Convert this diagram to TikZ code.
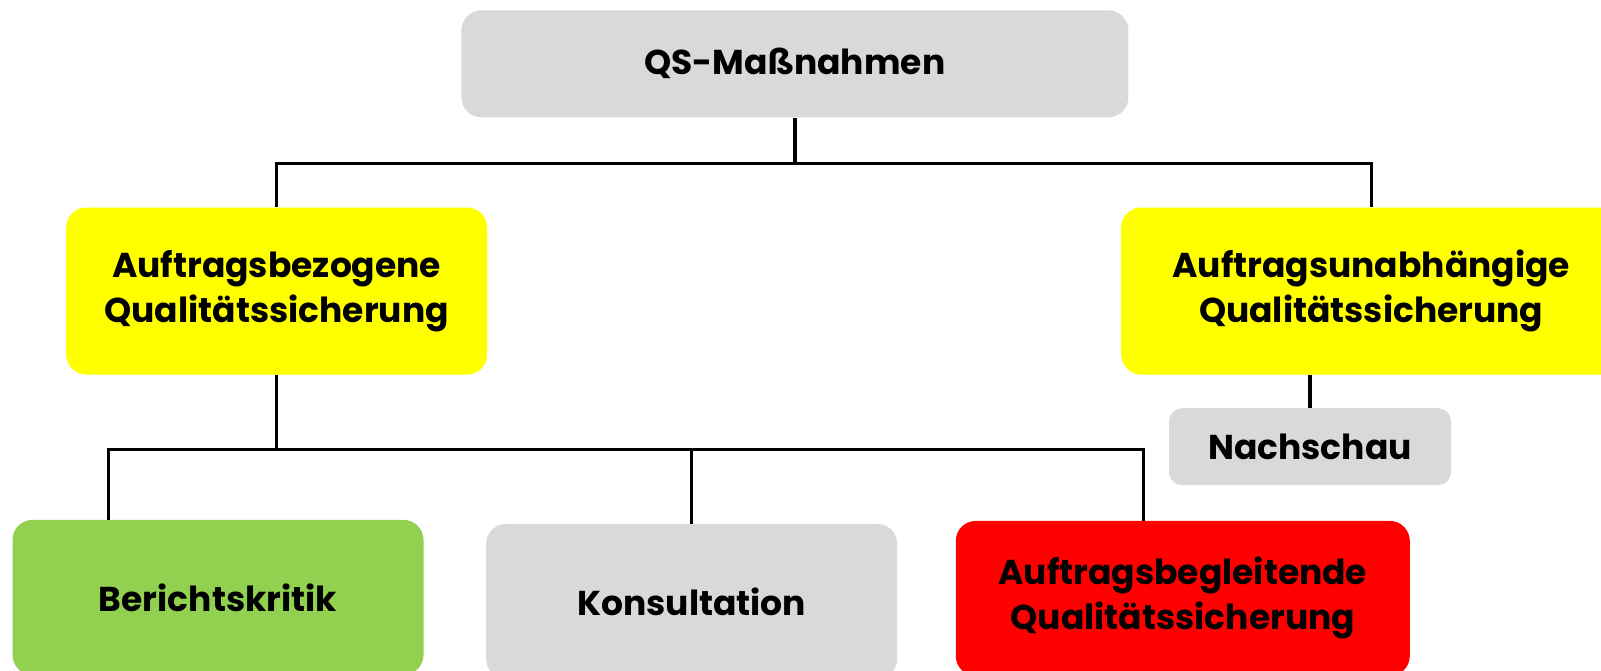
\documentclass[tikz,border=0pt]{standalone}
\usepackage{fontspec}
\setmainfont{Poppins}
\usepackage{tikz}

\definecolor{qsgray}{HTML}{D9D9D9}
\definecolor{qsyellow}{HTML}{FFFF00}
\definecolor{qsgreen}{HTML}{92D050}
\definecolor{qsred}{HTML}{FF0000}

\begin{document}
\begin{tikzpicture}[x=1pt,y=1pt,
  box/.style={rounded corners=20pt, inner sep=0pt, align=center,
    font=\fontsize{34.5}{45}\selectfont\bfseries},
  conn/.style={line width=3.4pt, black}]
\useasboundingbox (0,0) rectangle (1601,-670);
% top
\node[box, fill=qsgray, minimum width=667pt, minimum height=107pt] (qs) at (794.9,-63.8) {QS-Maßnahmen};
% second level
\node[box, fill=qsyellow, minimum width=421pt, minimum height=167pt] (auf) at (276.7,-291) {Auftragsbezogene\\Qualitätssicherung};
\node[box, fill=qsyellow, minimum width=500pt, minimum height=167pt] (unab) at (1371.2,-291) {Auftragsunabhängige\\Qualitätssicherung};
\node[box, fill=qsgray, rounded corners=13pt, minimum width=282pt, minimum height=77pt] (nach) at (1310,-446.7) {Nachschau};
% third level
\node[box, fill=qsgreen, minimum width=411pt, minimum height=155pt] (bk) at (218,-597.4) {Berichtskritik};
\node[box, fill=qsgray, minimum width=411pt, minimum height=155pt] (kons) at (691.7,-601.4) {Konsultation};
\node[box, fill=qsred, minimum width=454pt, minimum height=155pt] (rot) at (1182.8,-598.4) {Auftragsbegleitende\\Qualitätssicherung};
% connectors
\draw[conn] (qs.south) -- ++(0,-46) coordinate (j1);
\draw[conn] (auf.north) |- (j1) -| (unab.north);
\draw[conn] (auf.south) -- ++(0,-74.6) coordinate (j2);
\draw[conn] ([xshift=-109.8pt]bk.north) |- (j2) -| ([xshift=-39.2pt]rot.north);
\draw[conn] (kons.north) -- (kons.north |- j2);
\draw[conn] (nach.north) -- (nach.north |- unab.south);
\end{tikzpicture}
\end{document}
